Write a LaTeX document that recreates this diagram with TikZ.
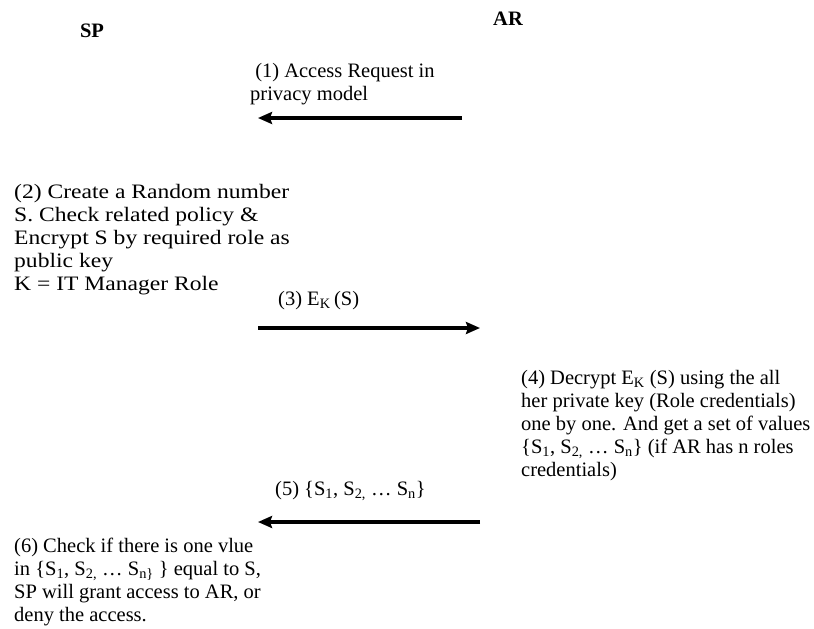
\documentclass[tikz,border=0pt]{standalone}
\usepackage{fontspec}
\setmainfont{Liberation Serif}
\newfontfamily\widefont{Liberation Serif}[FakeStretch=1.15]
\usetikzlibrary{arrows.meta}
\newcommand{\sub}[1]{\textsubscript{#1}}
\begin{document}
\begin{tikzpicture}[x=1pt,y=-1pt,
  txt/.style={font=\fontsize{20.5}{23}\selectfont, align=left, inner sep=0pt, anchor=north west},
  widetxt/.style={txt, font=\widefont\fontsize{20.5}{23}\selectfont},
  hdr/.style={font=\fontsize{20.5}{23}\selectfont\bfseries, inner sep=0pt},
  msg/.style={line width=3.2pt, -{Stealth[length=14pt,width=12pt,inset=2pt]}}]
\useasboundingbox (0,0) rectangle (814,629);
\node[hdr] (sp) at (92,31) {SP};
\node[hdr] (ar) at (508,19) {AR};
\node[txt] (t1) at (250,63) {\ (1) Access Request in\\privacy model};
\coordinate (a1s) at (462,118);
\coordinate (a1e) at (258,118);
\draw[msg] (a1s) -- (a1e);
\node[widetxt] (t2) at (14,184) {(2) Create a Random number\\S. Check related policy \&\\Encrypt S by required role as\\public key\\K = IT Manager Role};
\node[txt] (t3) at (278,291) {(3) E\sub{K}\,(S)};
\coordinate (a3s) at (258,328);
\coordinate (a3e) at (480,328);
\draw[msg] (a3s) -- (a3e);
\node[txt] (t4) at (521,370) {(4) Decrypt E\sub{K} (S) using the all\\her private key (Role credentials)\\one by one. And get a set of values\\\{S\sub{1}, S\sub{2,} \dots\ S\sub{n}\} (if AR has n roles\\credentials)};
\node[txt] (t5) at (275,481) {(5) \{S\sub{1}, S\sub{2,} \dots\ S\sub{n}\}};
\coordinate (a5s) at (480,522);
\coordinate (a5e) at (258,522);
\draw[msg] (a5s) -- (a5e);
\node[txt] (t6) at (14,538) {(6) Check if there is one vlue\\in \{S\sub{1}, S\sub{2,} \dots\ S\sub{n\}} \} equal to S,\\SP will grant access to AR, or\\deny the access.};
\end{tikzpicture}
\end{document}
